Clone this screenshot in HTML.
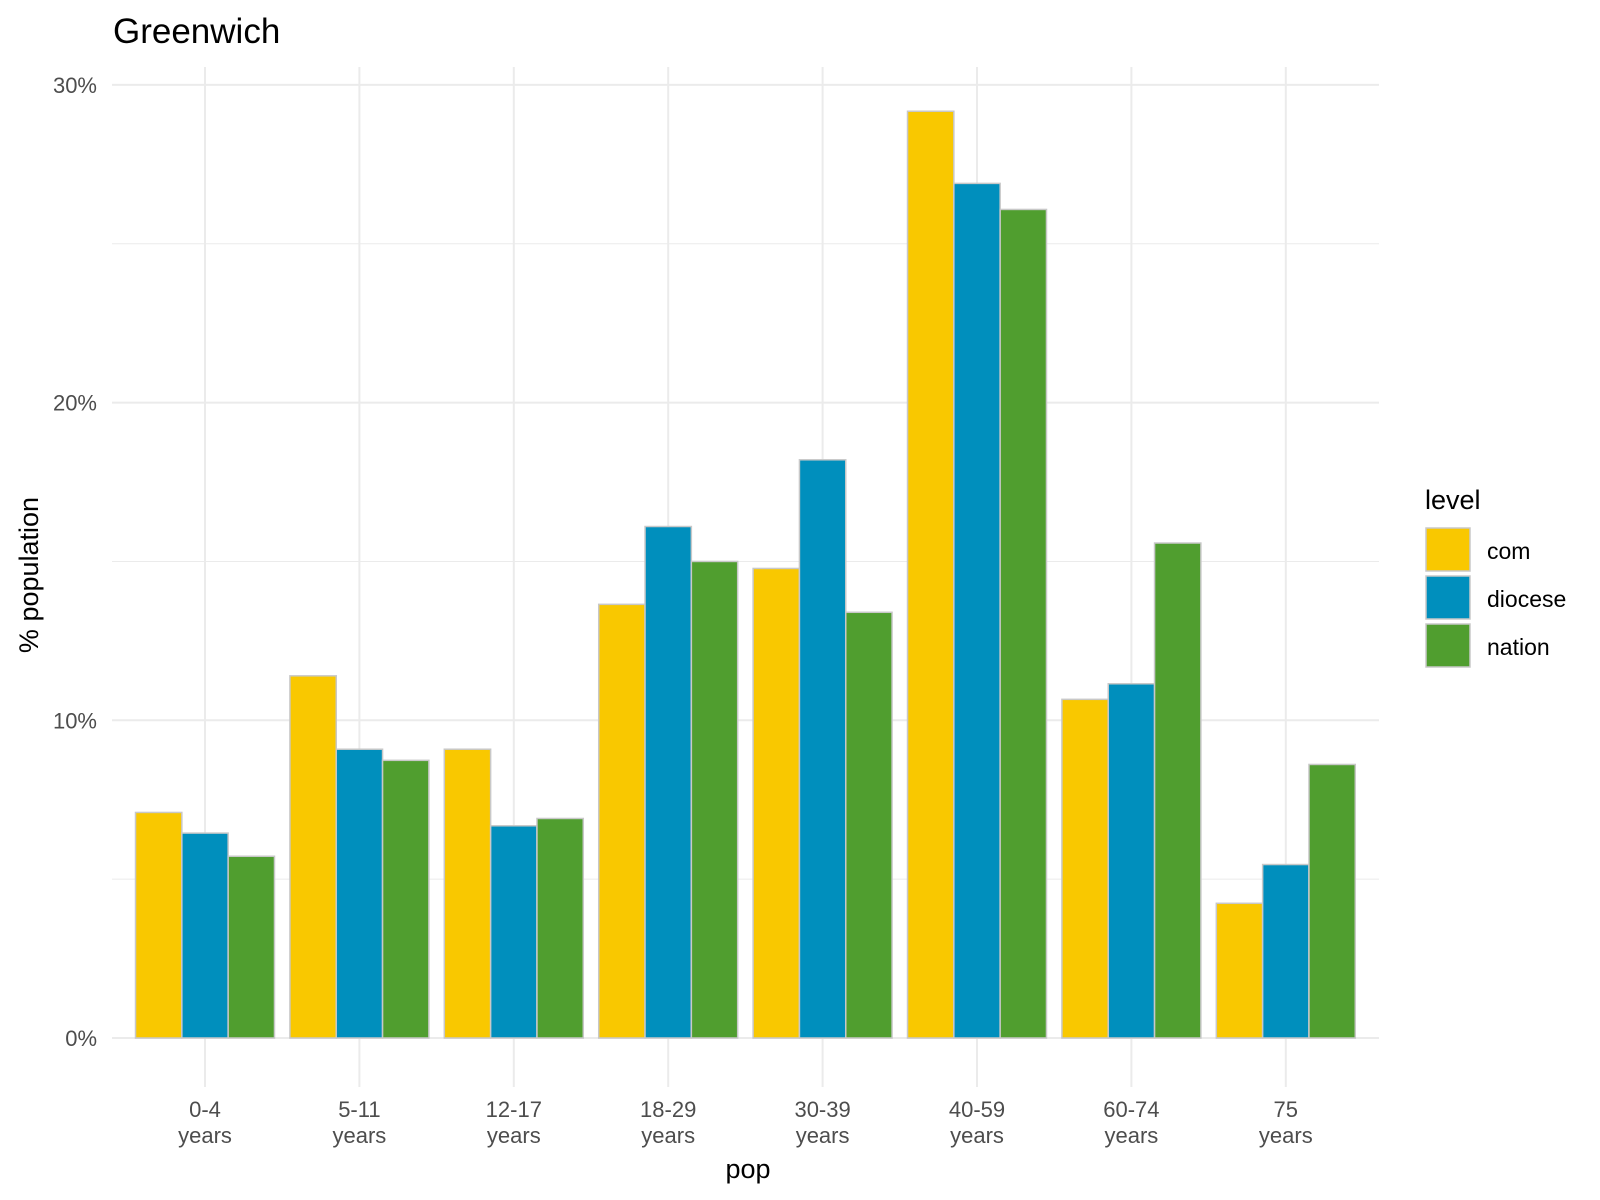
<!DOCTYPE html>
<html><head><meta charset="utf-8"><style>
body{margin:0;background:#fff}
svg{display:block;font-family:"Liberation Sans",Arial,sans-serif}
</style></head><body>
<svg id="chart" width="1600" height="1200" viewBox="0 0 1600 1200">
<text x="113" y="43" font-size="35" fill="#000">Greenwich</text>
<g id="grid"></g><g id="bars"></g><g id="axes"></g>
<text x="748" y="1178" font-size="27" text-anchor="middle" fill="#000">pop</text>
<text transform="translate(38,575) rotate(-90)" font-size="27" text-anchor="middle" fill="#000">% population</text>
<g id="legend">
<text x="1425" y="509" font-size="27" fill="#000">level</text>
</g>
</svg>
<script>
const categories=["0-4\nyears","5-11\nyears","12-17\nyears","18-29\nyears","30-39\nyears","40-59\nyears","60-74\nyears","75\nyears"];
const seriesNames=["com","diocese","nation"];
const comValues=[7.1,11.4,9.09,13.65,14.78,29.17,10.66,4.24];
const dioceseValues=[6.45,9.09,6.68,16.1,18.2,26.9,11.15,5.46];
const nationValues=[5.72,8.74,6.91,15.0,13.4,26.08,15.58,8.61];
const yTicks=[0,10,20,30];
const yTickLabels=["0%","10%","20%","30%"];
const minorTicks=[5,15,25];
const colors=["#F9C800","#008FBD","#509E2F"];
const NS="http://www.w3.org/2000/svg";
const X0=205,STEP=154.4,Y0=1038,PER=31.77,PL=112,PR=1379,PT=67,PB=1087;
const xc=i=>X0+i*STEP;
const y=v=>Y0-v*PER;
function mk(t,a,p){const e=document.createElementNS(NS,t);for(const k in a)e.setAttribute(k,a[k]);(p||document.getElementById("chart")).appendChild(e);return e;}
const grid=document.getElementById("grid"),bars=document.getElementById("bars"),axes=document.getElementById("axes"),legend=document.getElementById("legend");
minorTicks.forEach(v=>{const l=mk("line",{x1:PL,x2:PR,y1:y(v),y2:y(v),stroke:"#ebebeb","stroke-width":1},grid);

});
yTicks.forEach((v,i)=>{const l=mk("line",{x1:PL,x2:PR,y1:y(v),y2:y(v),stroke:"#ebebeb","stroke-width":2},grid);


const t=mk("text",{x:97,y:y(v)+8,"font-size":22,"text-anchor":"end",fill:"#4d4d4d"},axes);t.textContent=yTickLabels[i];

});
categories.forEach((c,i)=>{const l=mk("line",{x1:xc(i),x2:xc(i),y1:PT,y2:PB,stroke:"#ebebeb","stroke-width":2},grid);


const parts=c.split("\n");
parts.forEach((p,j)=>{const t=mk("text",{x:xc(i),y:1117+j*26,"font-size":22,"text-anchor":"middle",fill:"#4d4d4d"},axes);t.textContent=p;

});});
const series=[comValues,dioceseValues,nationValues];
const GW=STEP*0.9,BW=GW/3;
series.forEach((vals,s)=>{vals.forEach((v,i)=>{const x=xc(i)-GW/2+s*BW;
const r=mk("rect",{x:x,y:y(v),width:BW,height:Y0-y(v),fill:colors[s],stroke:"#c8c8c8","stroke-width":1.5},bars);

});});
seriesNames.forEach((n,s)=>{const r=mk("rect",{x:1426,y:528+s*48,width:44,height:43,fill:colors[s],stroke:"#c8c8c8","stroke-width":1.5},legend);


const t=mk("text",{x:1487,y:559+s*48,"font-size":23,fill:"#000"},legend);t.textContent=n;

});
</script>
</body></html>
